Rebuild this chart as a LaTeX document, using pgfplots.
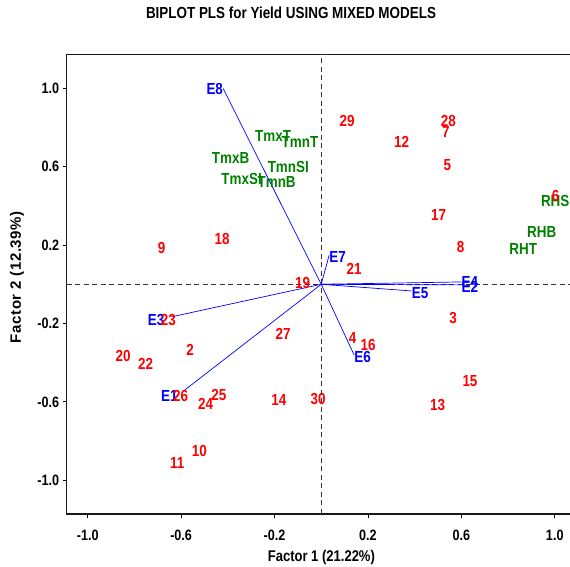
\documentclass[border=0pt]{standalone}
\usepackage{fontspec}
\setmainfont{Liberation Sans}[FakeStretch=0.84]
\newfontfamily\ylabfont{Liberation Sans}[LetterSpace=4]
\usepackage{pgfplots}
\pgfplotsset{compat=1.18}
\usepackage{pgfplotstable}
\definecolor{dgreen}{RGB}{0,128,0}
\newcommand\labfont{\fontsize{16}{16}\selectfont\bfseries}
\newcommand\ticfont{\fontsize{15}{15}\selectfont\bfseries}

\pgfplotstableread{
x y label
-0.684 0.185 9
-0.424 0.229 18
-0.080 0.008 19
0.111 0.833 29
0.544 0.833 28
0.534 0.778 7
0.344 0.727 12
0.540 0.608 5
0.503 0.353 17
0.597 0.188 8
1.004 0.450 6
0.141 0.076 21
-0.655 -0.183 23
-0.163 -0.254 27
-0.562 -0.336 2
-0.848 -0.366 20
-0.752 -0.404 22
-0.602 -0.570 26
-0.438 -0.567 25
-0.495 -0.608 24
-0.181 -0.591 14
-0.013 -0.587 30
-0.522 -0.851 10
-0.617 -0.911 11
0.565 -0.174 3
0.134 -0.276 4
0.201 -0.310 16
0.637 -0.494 15
0.498 -0.616 13
}\redpts

\pgfplotstableread{
x y label
-0.206 0.756 TmxT
-0.091 0.727 TmnT
-0.388 0.642 TmxB
-0.141 0.596 TmnSI
-0.341 0.535 TmxSI
-0.191 0.523 TmnB
1.002 0.426 RHS
0.944 0.268 RHB
0.865 0.178 RHT
}\greenpts

\pgfplotstableread{
x y label
-0.420 0.999 E8
}\blueeight

\pgfplotstableread{
x y label
-0.641 -0.166 E3
}\bluethree

\pgfplotstableread{
x y label
-0.584 -0.539 E1
}\blueone

\pgfplotstableread{
x y label
0.034 0.149 E7
0.387 -0.034 E5
0.141 -0.361 E6
0.600 -0.003 E2
}\blueeast

\pgfplotstableread{
x y label
0.600 0.012 E4
}\bluefour

\begin{document}
\begin{tikzpicture}
\begin{axis}[
  scale only axis, width=511.4pt, height=459.8pt,
  xmin=-1.09, xmax=1.1, ymin=-1.172, ymax=1.174,
  xtick={-1,-0.6,-0.2,0.2,0.6,1}, ytick={-1,-0.6,-0.2,0.2,0.6,1},
  xtick pos=bottom, ytick pos=left, tick align=outside,
  major tick length=4pt,
  tick style={black, line width=0.8pt},
  axis line style={line width=1.2pt, black!90},
  /pgf/number format/fixed, /pgf/number format/fixed zerofill,
  /pgf/number format/precision=1, /pgf/number format/assume math mode=true,
  xticklabel style={font=\ticfont, yshift=-8pt},
  yticklabel style={font=\ticfont},
  title={BIPLOT PLS for Yield USING MIXED MODELS},
  title style={at={(axis description cs:0.4386,1.0761)}, anchor=center, font=\fontsize{16}{16}\selectfont\bfseries},
  xlabel={Factor 1 (21.22\%)},
  xlabel style={at={(axis description cs:0.498,0)}, anchor=center, yshift=-43pt, font=\fontsize{15.5}{15.5}\selectfont\bfseries},
  ylabel={Factor 2 (12.39\%)},
  ylabel style={at={(axis description cs:-0.0972,0.515)}, anchor=center, rotate=0, font=\fontsize{15}{15}\selectfont\ylabfont\bfseries},
  clip=false,
]
\coordinate (sw) at (rel axis cs:0,0);
% reference lines
\addplot[black!80, dashed, dash pattern=on 5pt off 3.5pt, line width=0.8pt] coordinates {(0,-1.172) (0,1.174)};
\addplot[black!80, dashed, dash pattern=on 5pt off 3.5pt, line width=0.8pt] coordinates {(-1.09,0) (1.1,0)};
% vectors
\addplot[blue, line width=0.7pt] coordinates {(0,0) (-0.420,0.999)};
\addplot[blue, line width=0.7pt] coordinates {(0,0) (-0.641,-0.166)};
\addplot[blue, line width=0.7pt] coordinates {(0,0) (-0.584,-0.539)};
\addplot[blue, line width=0.7pt] coordinates {(0,0) (0.034,0.149)};
\addplot[blue, line width=0.7pt] coordinates {(0,0) (0.387,-0.034)};
\addplot[blue, line width=0.7pt] coordinates {(0,0) (0.141,-0.361)};
\addplot[blue, line width=0.7pt] coordinates {(0,0) (0.600,-0.003)};
\addplot[blue, line width=0.7pt] coordinates {(0,0) (0.600,0.012)};
% labels
\addplot[draw=none, mark=none, nodes near coords, point meta=explicit symbolic,
  nodes near coords style={anchor=east, inner sep=0pt, text=blue, font=\labfont}]
  table[meta=label] {\blueeight};
\addplot[draw=none, mark=none, nodes near coords, point meta=explicit symbolic,
  nodes near coords style={anchor=east, inner sep=0pt, xshift=-7pt, yshift=-3pt, text=blue, font=\labfont}]
  table[meta=label] {\bluethree};
\addplot[draw=none, mark=none, nodes near coords, point meta=explicit symbolic,
  nodes near coords style={anchor=east, inner sep=0pt, xshift=-7pt, yshift=-6pt, text=blue, font=\labfont}]
  table[meta=label] {\blueone};
\addplot[draw=none, mark=none, nodes near coords, point meta=explicit symbolic,
  nodes near coords style={anchor=west, inner sep=0pt, yshift=-2pt, text=blue, font=\labfont}]
  table[meta=label] {\blueeast};
\addplot[draw=none, mark=none, nodes near coords, point meta=explicit symbolic,
  nodes near coords style={anchor=west, inner sep=0pt, text=blue, font=\labfont}]
  table[meta=label] {\bluefour};
\addplot[draw=none, mark=none, nodes near coords, point meta=explicit symbolic,
  nodes near coords style={anchor=center, inner sep=0pt, text=dgreen, font=\labfont}]
  table[meta=label] {\greenpts};
\addplot[draw=none, mark=none, nodes near coords, point meta=explicit symbolic,
  nodes near coords style={anchor=center, inner sep=0pt, text=red, font=\labfont}]
  table[meta=label] {\redpts};
\end{axis}
\pgfresetboundingbox
\path (sw) ++(-66.7pt,-53pt) rectangle ++(570pt,567pt);
\end{tikzpicture}
\end{document}
